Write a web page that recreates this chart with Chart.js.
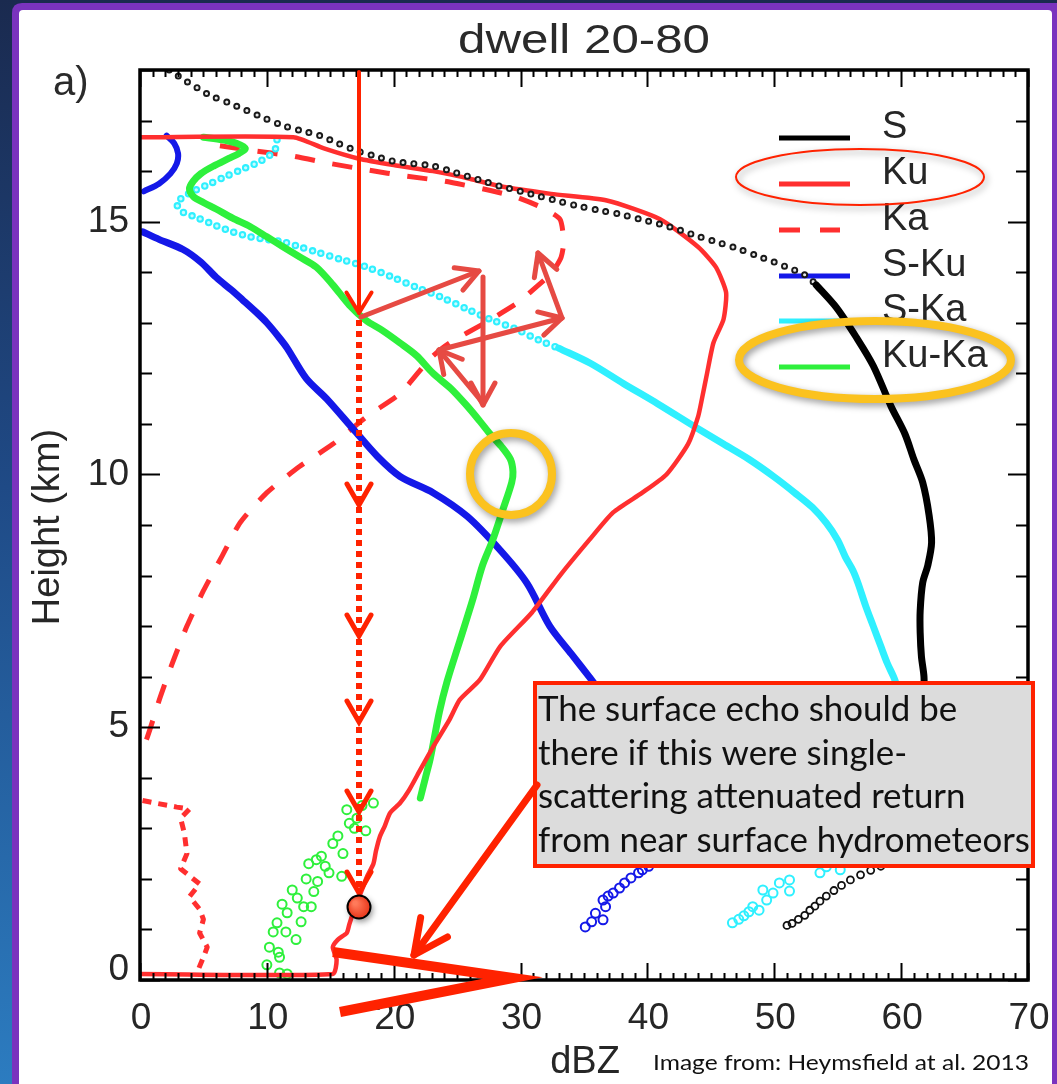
<!DOCTYPE html>
<html>
<head>
<meta charset="utf-8">
<title>dwell 20-80</title>
<script src="https://cdn.jsdelivr.net/npm/chart.js@4.4.1/dist/chart.umd.min.js"></script>
<style>
  html, body { margin: 0; padding: 0; background: #1b2d55; overflow: hidden; }
  canvas { display: block; }
</style>
</head>
<body>
<canvas id="c" width="1057" height="1084"></canvas>
<script>
// ---------------- axis ticks ----------------
const xTicks = [0, 10, 20, 30, 40, 50, 60, 70];
const yTicks = [0, 5, 10, 15];
const legendLabels = ['S', 'Ku', 'Ka', 'S-Ku', 'S-Ka', 'Ku-Ka'];

// ---------------- S band (black) ----------------
const S_upper_dbz = [2.3,2.9,3.5,4.5,5.5,7.0,8.4,9.8,11.3,12.7,14.2,15.6,17.1,18.5,19.9,21.5,23.1,24.5,25.8,27.1,28.4,30.0,31.5,33.1,34.7,36.3,37.8,39.4,41.0,42.6,44.1,45.7,47.3,48.7,50.0,51.0,52.0,52.7,53.3];
const S_upper_km  = [18.0,17.9,17.8,17.65,17.5,17.35,17.2,17.05,16.9,16.8,16.7,16.55,16.4,16.3,16.2,16.15,16.1,16.0,15.9,15.8,15.7,15.6,15.5,15.4,15.3,15.22,15.15,15.05,14.95,14.83,14.7,14.58,14.45,14.32,14.2,14.1,14.0,13.9,13.75];
const S_dbz = [53.3,54.9,56.5,57.8,59.2,60.3,61.0,61.7,62.2,62.4,62.1,61.7,61.5,61.5,61.6,61.8,61.8];
const S_km  = [13.75,13.3,12.7,12.15,11.35,10.8,10.3,9.84,9.2,8.65,8.2,7.86,7.3,6.87,6.4,6.0,5.6];
const S_near_dbz = [58.4,57.6,56.8,56.0,55.3,54.7,54.1,53.6,53.2,52.8,52.4,51.9,51.4,51.0];
const S_near_km  = [2.25,2.17,2.08,1.98,1.87,1.77,1.66,1.56,1.46,1.38,1.28,1.2,1.12,1.08];

// ---------------- Ku band (red solid) ----------------
const Ku_dbz = [0,12.1,14.5,17.2,20.0,23.1,26.0,28.4,32.4,36.8,41.0,44.0,45.4,46.2,46.0,45.2,44.7,44.3,44.0,43.2,41.5,39.6,37.3,35.4,33.1,30.9,28.4,26.8,25.2,24.4,23.2,22.1,21.2,20.5,19.7,19.3,18.9,18.6,18.4,17.9,17.6,17.2,16.8,16.5,16.3,15.6,15.2,15.5,15.2,0];
const Ku_km  = [16.67,16.67,16.45,16.25,16.12,16.0,15.85,15.7,15.55,15.42,15.05,14.5,14.1,13.6,13.07,12.6,12.0,11.5,11.15,10.6,10.0,9.64,9.25,8.7,8.0,7.27,6.6,5.94,5.54,5.15,4.65,4.16,3.75,3.5,3.3,3.05,2.83,2.55,2.3,2.05,1.85,1.6,1.33,1.1,0.93,0.8,0.65,0.4,0.12,0.12];

// ---------------- Ka band (red dashed) ----------------
const Ka_dbz = [6.3,9.0,12.0,15.0,18.0,21.0,24.0,27.0,29.5,31.5,33.1,33.4,33.2,32.5,31.2,29.8,27.2,24.4,22.9,20.5,17.9,15.2,12.6,10.0,7.9,6.5,5.0,3.7,2.6,1.6,0.5,0];
const Ka_km  = [16.5,16.4,16.3,16.15,16.02,15.9,15.8,15.65,15.5,15.3,15.05,14.6,14.3,14.0,13.7,13.4,13.0,12.6,12.3,11.6,11.15,10.6,10.16,9.64,9.05,8.4,7.7,7.0,6.3,5.6,4.75,4.55];
const Ka_near_dbz = [0.2,1.2,2.9,3.9,3.2,3.5,3.7,3.2,4.7,3.9,4.7,5.0,4.7,5.3,5.0,4.5];
const Ka_near_km  = [3.55,3.5,3.42,3.38,3.2,2.9,2.5,2.2,1.9,1.65,1.4,1.2,0.93,0.65,0.45,0.15];

// ---------------- S-Ku (blue) ----------------
const SKu_top_dbz = [2.1,2.7,3.0,2.9,2.4,1.5,0.3];
const SKu_top_km  = [16.7,16.55,16.35,16.15,15.95,15.75,15.6];
const SKu_dbz = [0.2,1.5,3.4,4.8,6.0,7.2,8.1,9.2,10.0,11.0,11.6,13.1,14.7,16.8,18.7,20.5,23.1,25.8,28.4,30.5,32.3,34.0,35.4,36.3];
const SKu_km  = [14.8,14.65,14.45,14.2,13.9,13.65,13.45,13.2,13.0,12.7,12.5,11.9,11.5,10.9,10.36,9.96,9.64,9.17,8.5,7.85,7.0,6.45,6.0,5.7];
const SKu_near_dbz = [40.1,39.6,39.3,38.7,38.2,37.8,37.3,36.9,36.5,36.7,35.9,36.5,35.6,35.1];
const SKu_near_km  = [2.25,2.18,2.12,2.02,1.92,1.82,1.72,1.66,1.58,1.45,1.32,1.19,1.15,1.05];

// ---------------- S-Ka (cyan) ----------------
const SKa_top_dbz = [10.8,10.6,9.5,8.2,6.8,5.5,4.2,3.2,2.9,3.3,4.5,6.0,7.3,8.7,10.0,11.3,12.6,13.9,15.9,17.9,19.9,21.8,23.8,25.8,27.8,29.7,31.5,33.0];
const SKa_top_km  = [16.62,16.4,16.2,16.05,15.9,15.75,15.6,15.45,15.35,15.2,15.08,14.92,14.8,14.7,14.65,14.6,14.5,14.4,14.25,14.1,13.9,13.7,13.5,13.27,13.05,12.87,12.65,12.5];
const SKa_dbz = [33.0,35.5,38.1,40.8,43.7,46.0,48.0,50.0,51.6,53.0,54.1,55.0,55.6,56.2,56.6,57.2,57.8,58.4,58.9,59.4,59.7];
const SKa_km  = [12.5,12.2,11.8,11.4,10.95,10.6,10.3,9.95,9.64,9.35,9.04,8.7,8.37,8.1,7.85,7.4,7.0,6.6,6.27,6.0,5.8];
const SKa_near_dbz = [46.7,47.2,47.6,48.0,48.3,48.8,49.4,49.1,49.9,50.4,51.2,51.2,53.6,54.1,55.2];
const SKa_near_km  = [1.13,1.2,1.27,1.35,1.45,1.38,1.58,1.78,1.72,1.92,1.98,1.76,2.12,2.24,2.18];

// ---------------- Ku-Ka (green) ----------------
const KuKa_dbz = [5.0,6.5,7.6,8.3,7.8,7.0,5.8,4.8,4.2,3.9,4.2,5.0,6.0,7.3,8.7,10.0,11.3,12.6,13.9,15.2,16.5,17.8,19.1,20.5,21.8,23.1,24.5,25.8,26.8,27.6,28.5,29.2,29.4,29.3,28.6,27.8,27.0,26.2,25.2,24.2,23.6,22.9,22.5,22.1];
const KuKa_km  = [16.67,16.62,16.55,16.45,16.35,16.25,16.1,15.95,15.8,15.65,15.5,15.38,15.25,15.07,14.9,14.7,14.5,14.3,14.1,13.75,13.35,13.05,12.85,12.6,12.35,12.0,11.7,11.35,11.05,10.8,10.55,10.3,10.05,9.84,9.3,8.7,8.2,7.5,6.7,5.9,5.3,4.4,4.0,3.6];
const KuKa_near_dbz = [18.4,17.5,16.3,16.5,17.1,15.2,16.0,13.9,14.9,13.1,14.6,12.0,13.7,12.9,11.6,13.5,10.8,12.3,11.5,10.2,11.0,10.0,11.0,11.6,17.8,16.9,15.6,14.3,13.3,12.4,11.2,10.5,15.9,14.0,12.7,10.9];
const KuKa_near_km  = [3.5,3.45,3.37,3.1,3.2,2.7,2.5,2.38,2.12,2.0,2.25,1.78,1.75,1.45,1.33,1.45,1.13,0.8,0.95,0.65,0.45,0.3,0.14,0.12,2.95,3.0,2.85,2.45,2.3,1.62,1.5,0.95,2.05,1.95,1.15,0.55];

// ---------------- styling ----------------
const COL = { S: '#000000', Ku: '#ff2f2f', Ka: '#ff2f2f', SKu: '#1418e8', SKa: '#2ff0ff', KuKa: '#2ef03c' };
const AXIS_FONT = '"Liberation Sans", Arial, Helvetica, sans-serif';
const NOTE_FONT = 'Lato, "Open Sans", sans-serif';

function pairs(xs, ys) { return xs.map((v, i) => ({ x: v, y: ys[i] })); }
function lineSet(label, xs, ys, color, width, dash, tension) {
  return {
    label, data: pairs(xs, ys), showLine: true, fill: false, tension: tension || 0,
    borderColor: color, backgroundColor: color, borderWidth: width,
    borderDash: dash || [], borderCapStyle: dash ? 'butt' : 'round', borderJoinStyle: 'round',
    pointRadius: 0, pointHoverRadius: 0
  };
}
// chain of small hollow circles along a profile: a dotted stroke with a paler core
function beadSets(label, xs, ys, color, core, width, step) {
  const outer = lineSet(label, xs, ys, color, width, [0, step], 0.3);
  outer.borderCapStyle = 'round';
  const inner = lineSet(label + ' core', xs, ys, core, width * 0.45, [0, step], 0.3);
  inner.borderCapStyle = 'round';
  return [inner, outer];
}
function ringSet(label, xs, ys, color, r, bw) {
  return {
    label, data: pairs(xs, ys), showLine: false,
    pointStyle: 'circle', pointRadius: r, pointHoverRadius: r,
    pointBackgroundColor: 'rgba(0,0,0,0)', pointBorderColor: color, pointBorderWidth: bw
  };
}

// earlier entries are painted on top
const datasets = [
  ringSet('S near', S_near_dbz, S_near_km, '#111111', 3.5, 1.8),
  lineSet('S', S_dbz, S_km, COL.S, 7, null, 0.3),
  ...beadSets('S upper', S_upper_dbz, S_upper_km, '#1a1a1a', '#e8e8e8', 7, 11),
  lineSet('Ku', Ku_dbz, Ku_km, COL.Ku, 4.5, null, 0.2),
  ringSet('Ku-Ka near', KuKa_near_dbz, KuKa_near_km, COL.KuKa, 4.5, 2),
  lineSet('Ku-Ka', KuKa_dbz, KuKa_km, COL.KuKa, 7, null, 0.3),
  ringSet('S-Ka near', SKa_near_dbz, SKa_near_km, COL.SKa, 4.5, 2),
  lineSet('S-Ka', SKa_dbz, SKa_km, COL.SKa, 7, null, 0.3),
  ...beadSets('S-Ka top', SKa_top_dbz, SKa_top_km, COL.SKa, '#c8fbff', 7.5, 9),
  ringSet('S-Ku near', SKu_near_dbz, SKu_near_km, COL.SKu, 4.5, 2),
  lineSet('S-Ku', SKu_dbz, SKu_km, COL.SKu, 7, null, 0.3),
  lineSet('S-Ku top', SKu_top_dbz, SKu_top_km, COL.SKu, 6, null, 0.3),
  lineSet('Ka near', Ka_near_dbz, Ka_near_km, COL.Ka, 5, [9, 7]),
  lineSet('Ka', Ka_dbz, Ka_km, COL.Ka, 5, [20, 18], 0.2)
];

// ---------------- drawing helpers ----------------
function roundRect(ctx, x, y, w, h, r) {
  ctx.beginPath();
  ctx.moveTo(x + r, y);
  ctx.lineTo(x + w - r, y); ctx.quadraticCurveTo(x + w, y, x + w, y + r);
  ctx.lineTo(x + w, y + h - r); ctx.quadraticCurveTo(x + w, y + h, x + w - r, y + h);
  ctx.lineTo(x + r, y + h); ctx.quadraticCurveTo(x, y + h, x, y + h - r);
  ctx.lineTo(x, y + r); ctx.quadraticCurveTo(x, y, x + r, y);
  ctx.closePath();
}
function arrow(ctx, x1, y1, x2, y2, color, w, head, spread) {
  const a = Math.atan2(y2 - y1, x2 - x1);
  ctx.save();
  ctx.strokeStyle = color; ctx.lineWidth = w; ctx.lineCap = 'round'; ctx.lineJoin = 'round';
  ctx.beginPath(); ctx.moveTo(x1, y1); ctx.lineTo(x2, y2); ctx.stroke();
  ctx.beginPath();
  ctx.moveTo(x2 - head * Math.cos(a - spread), y2 - head * Math.sin(a - spread));
  ctx.lineTo(x2, y2);
  ctx.lineTo(x2 - head * Math.cos(a + spread), y2 - head * Math.sin(a + spread));
  ctx.stroke();
  ctx.restore();
}
function fittedText(ctx, text, x, y, family, targetW, baseSize, align) {
  ctx.save();
  ctx.font = baseSize + 'px ' + family;
  const w = ctx.measureText(text).width;
  const s = targetW / w;
  ctx.translate(x, y);
  ctx.scale(s, 1);
  ctx.textAlign = align || 'left';
  ctx.fillText(text, 0, 0);
  ctx.restore();
}

// slide background with purple frame and white panel
const slidePlugin = {
  id: 'slide',
  beforeDraw(chart) {
    const ctx = chart.ctx, W = chart.width, H = chart.height;
    ctx.save();
    const g = ctx.createLinearGradient(0, 0, 0, H);
    g.addColorStop(0, '#1a2a4f');
    g.addColorStop(0.45, '#1f4a86');
    g.addColorStop(1, '#2c7cc0');
    ctx.fillStyle = g;
    ctx.fillRect(0, 0, W, H);
    ctx.fillStyle = '#7a33be';
    roundRect(ctx, 12, 3, W + 20, H + 30, 10); ctx.fill();
    ctx.fillStyle = '#ffffff';
    roundRect(ctx, 19, 10, 1052 - 19, H + 30, 4); ctx.fill();
    ctx.restore();
  }
};

// legend in the upper right of the plot
const legendPlugin = {
  id: 'idlLegend',
  beforeDatasetsDraw(chart) {
    const ctx = chart.ctx;
    const rows = [
      { c: COL.S, y: 138 }, { c: COL.Ku, y: 184 }, { c: COL.Ka, y: 230, dash: true },
      { c: COL.SKu, y: 276 }, { c: COL.SKa, y: 321 }, { c: COL.KuKa, y: 367 }
    ];
    ctx.save();
    rows.forEach((r, i) => {
      ctx.strokeStyle = r.c; ctx.lineWidth = 5; ctx.lineCap = 'butt';
      ctx.beginPath();
      if (r.dash) { ctx.moveTo(779, r.y); ctx.lineTo(800, r.y); ctx.moveTo(820, r.y); ctx.lineTo(840, r.y); }
      else { ctx.moveTo(779, r.y); ctx.lineTo(850, r.y); }
      ctx.stroke();
      ctx.fillStyle = '#262626';
      ctx.font = '38px ' + AXIS_FONT;
      ctx.textAlign = 'left'; ctx.textBaseline = 'alphabetic';
      ctx.fillText(legendLabels[i], 882, r.y);
    });
    ctx.restore();
  }
};

// box frame, inward ticks on four sides, tick labels, titles
const framePlugin = {
  id: 'idlFrame',
  afterDatasetsDraw(chart) {
    const ctx = chart.ctx, a = chart.chartArea, xs = chart.scales.x, ys = chart.scales.y;
    ctx.save();
    ctx.strokeStyle = '#000'; ctx.lineWidth = 2; ctx.lineCap = 'butt';
    ctx.beginPath();
    for (let v = xs.min; v <= xs.max; v += 1) {
      const px = Math.round(xs.getPixelForValue(v)) + 0.5;
      const L = xTicks.includes(v) ? 17 : 7;
      ctx.moveTo(px, a.bottom); ctx.lineTo(px, a.bottom - L);
      ctx.moveTo(px, a.top); ctx.lineTo(px, a.top + L);
    }
    for (let v = ys.min; v <= ys.max; v += 1) {
      const py = Math.round(ys.getPixelForValue(v)) + 0.5;
      const L = yTicks.includes(v) ? 20 : 12;
      ctx.moveTo(a.left, py); ctx.lineTo(a.left + L, py);
      ctx.moveTo(a.right, py); ctx.lineTo(a.right - L, py);
    }
    ctx.stroke();
    ctx.lineWidth = 3.5;
    ctx.strokeRect(a.left, a.top, a.right - a.left, a.bottom - a.top);

    ctx.fillStyle = '#262626';
    ctx.font = '37px ' + AXIS_FONT;
    ctx.textAlign = 'center'; ctx.textBaseline = 'middle';
    xTicks.forEach(v => ctx.fillText(String(v), xs.getPixelForValue(v) + 1, 1019));
    ctx.textAlign = 'right';
    yTicks.forEach(v => ctx.fillText(String(v), 129, ys.getPixelForValue(v) - (v === 0 ? 10 : 0)));

    ctx.font = '38px ' + AXIS_FONT;
    ctx.textAlign = 'center'; ctx.textBaseline = 'alphabetic';
    ctx.fillText('dBZ', 585, 1073);
    ctx.save();
    ctx.translate(59, 527); ctx.rotate(-Math.PI / 2);
    ctx.fillText('Height (km)', 0, 0);
    ctx.restore();

    ctx.fillStyle = '#2a2a2a';
    fittedText(ctx, 'dwell 20-80', 584, 53, AXIS_FONT, 252, 40, 'center');
    ctx.font = '40px ' + AXIS_FONT;
    ctx.textAlign = 'left';
    ctx.fillText('a)', 53, 95);
    ctx.restore();
  }
};

// explanatory overlay: ray paths, callout box and highlight rings
const notePlugin = {
  id: 'notes',
  afterDraw(chart) {
    const ctx = chart.ctx;
    const RED = '#ff2200', SOFT = '#e64a43', GOLD = '#fbc21f';
    ctx.save();

    // incident ray
    arrow(ctx, 359, 72, 359, 313, RED, 4, 24, 0.55);
    // attenuated path continuing downward
    ctx.save();
    ctx.strokeStyle = RED; ctx.lineWidth = 6; ctx.setLineDash([6, 5]);
    ctx.beginPath(); ctx.moveTo(359, 320); ctx.lineTo(359, 893); ctx.stroke();
    ctx.restore();
    [505, 636, 722, 812, 893].forEach(t => {
      ctx.save();
      ctx.strokeStyle = RED; ctx.lineWidth = 5; ctx.lineCap = 'round';
      ctx.beginPath(); ctx.moveTo(347, t - 21); ctx.lineTo(359, t); ctx.lineTo(371, t - 21); ctx.stroke();
      ctx.restore();
    });

    // multiple-scattering paths
    arrow(ctx, 361, 317, 479, 271, SOFT, 5, 25, 0.5);
    arrow(ctx, 483, 277, 483, 405, SOFT, 5, 25, 0.5);
    arrow(ctx, 482, 402, 439, 350, SOFT, 5, 25, 0.5);
    arrow(ctx, 439, 350, 562, 318, SOFT, 5, 25, 0.5);
    arrow(ctx, 562, 318, 538, 253, SOFT, 5, 25, 0.5);

    // surface echo marker
    ctx.save();
    ctx.shadowColor = 'rgba(0,0,0,0.45)'; ctx.shadowBlur = 6; ctx.shadowOffsetX = 2; ctx.shadowOffsetY = 3;
    const rg = ctx.createRadialGradient(355, 903, 2, 359, 907, 12);
    rg.addColorStop(0, '#ff7a5a'); rg.addColorStop(1, '#e83418');
    ctx.fillStyle = rg;
    ctx.beginPath(); ctx.arc(359, 907, 11.5, 0, Math.PI * 2); ctx.fill();
    ctx.shadowColor = 'transparent';
    ctx.strokeStyle = '#000'; ctx.lineWidth = 2; ctx.stroke();
    ctx.restore();

    // expected surface echo
    ctx.save();
    ctx.strokeStyle = RED; ctx.lineWidth = 10; ctx.lineJoin = 'miter'; ctx.lineCap = 'butt';
    ctx.beginPath(); ctx.moveTo(333, 952); ctx.lineTo(513, 978); ctx.lineTo(340, 1012); ctx.stroke();
    ctx.restore();

    // callout box
    ctx.save();
    ctx.fillStyle = '#dcdcdc';
    ctx.fillRect(535, 683, 498, 183);
    ctx.strokeStyle = RED; ctx.lineWidth = 4;
    ctx.strokeRect(535, 683, 498, 183);
    ctx.fillStyle = '#111';
    ctx.font = '100px ' + NOTE_FONT;
    const ref = 'from near surface hydrometeors';
    const size = 100 * 492 / ctx.measureText(ref).width;
    ctx.font = size.toFixed(2) + 'px ' + NOTE_FONT;
    ctx.textAlign = 'left'; ctx.textBaseline = 'alphabetic';
    const noteLines = ['The surface echo should be', 'there if this were single-', 'scattering attenuated return', ref];
    const baselines = [721, 765, 808, 852];
    noteLines.forEach((t, i) => ctx.fillText(t, 538, baselines[i]));
    ctx.restore();

    arrow(ctx, 537, 785, 414, 955, RED, 7, 38, 0.45);

    // highlight rings
    ctx.save();
    ctx.shadowColor = 'rgba(0,0,0,0.4)'; ctx.shadowBlur = 7; ctx.shadowOffsetX = 2; ctx.shadowOffsetY = 3;
    ctx.strokeStyle = RED; ctx.lineWidth = 2;
    ctx.beginPath(); ctx.ellipse(860, 177, 124, 28, 0, 0, Math.PI * 2); ctx.stroke();
    ctx.strokeStyle = GOLD; ctx.lineWidth = 8;
    ctx.beginPath(); ctx.ellipse(875, 360, 136, 39, 0, 0, Math.PI * 2); ctx.stroke();
    ctx.beginPath(); ctx.arc(511, 474, 41, 0, Math.PI * 2); ctx.stroke();
    ctx.restore();

    // source note
    ctx.fillStyle = '#111';
    fittedText(ctx, 'Image from: Heymsfield at al. 2013', 653, 1070, NOTE_FONT, 376, 22, 'left');
    ctx.restore();
  }
};

new Chart(document.getElementById('c'), {
  type: 'scatter',
  data: { datasets },
  options: {
    responsive: false,
    animation: false,
    devicePixelRatio: 1,
    layout: { padding: { left: 140, top: 70, right: 29, bottom: 104 } },
    scales: {
      x: { type: 'linear', min: 0, max: 70, display: false },
      y: { type: 'linear', min: 0, max: 18, display: false }
    },
    plugins: { legend: { display: false }, tooltip: { enabled: false } },
    events: []
  },
  plugins: [slidePlugin, legendPlugin, framePlugin, notePlugin]
});
</script>
</body>
</html>
